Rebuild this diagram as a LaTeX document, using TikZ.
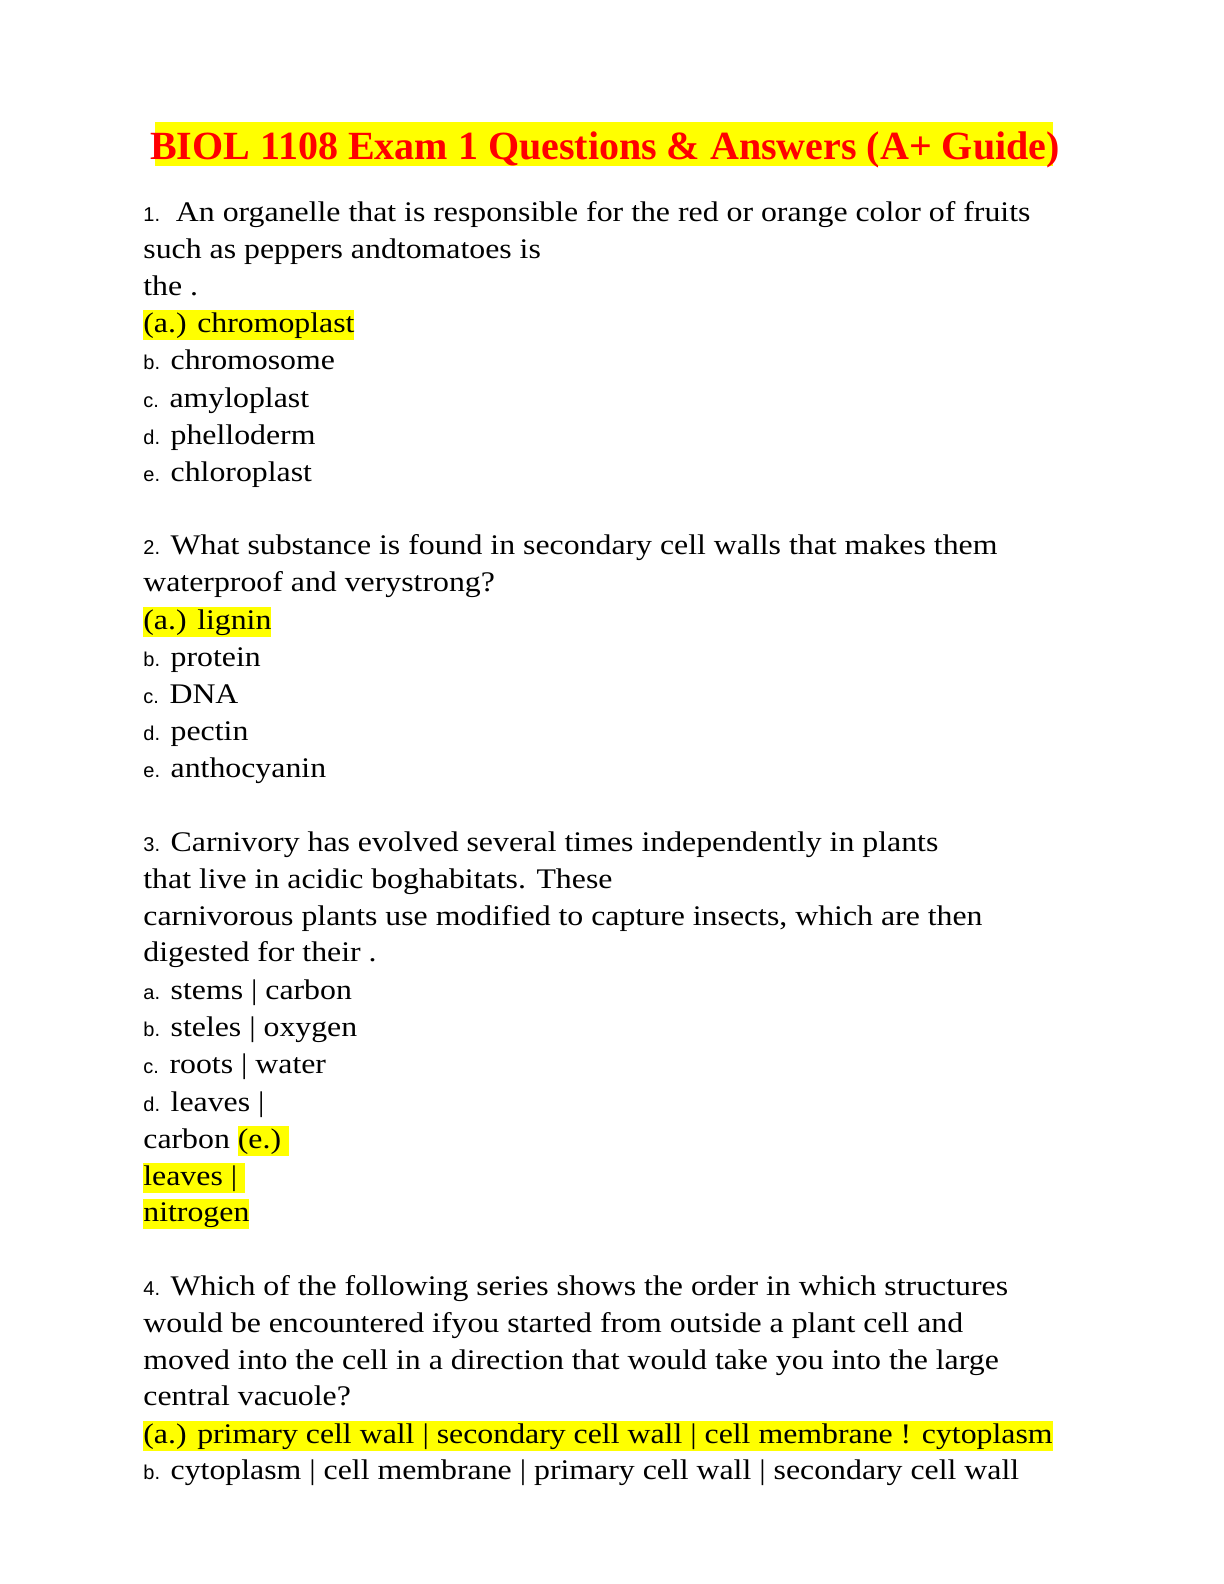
\documentclass[tikz,border=0pt]{standalone}
\usepackage{fontspec}
\setmainfont{Liberation Serif}
\newfontfamily\bodyfont[FakeStretch=1.12]{Liberation Serif}
\setsansfont{Liberation Sans}
\definecolor{hl}{RGB}{255,255,0}
\definecolor{tred}{RGB}{255,0,0}
\newcommand{\nm}[1]{{\fontsize{10pt}{12pt}\sffamily #1}}
\newcommand{\hlt}[1]{{\setlength{\fboxsep}{0pt}\colorbox{hl}{\rule[-4pt]{0pt}{15pt}#1}}}
\tikzset{ln/.style={anchor=base west,inner sep=0pt,font=\bodyfont\fontsize{14.2pt}{16pt}\selectfont}}
\begin{document}
\begin{tikzpicture}[x=0.5pt,y=-0.5pt]
\useasboundingbox (0,0) rectangle (1224,1584);
\fill[hl] (155,122) rectangle (1053,166);
\node[anchor=base,inner sep=0pt,font=\bfseries\fontsize{20pt}{24pt}\selectfont,text=tred] (title) at (605,159) {BIOL 1108 Exam 1 Questions \& Answers (A+ Guide)};
\node[ln] (l1) at (143,221) {\nm{1.}\ \ An organelle that is responsible for the red or orange color of fruits};
\node[ln] (l2) at (143,258) {such as peppers andtomatoes is};
\node[ln] (l3) at (143,295) {the .};
\node[ln] (l4) at (143,332) {\hlt{(a.) chromoplast}};
\node[ln] (l5) at (143,369) {\nm{b.} chromosome};
\node[ln] (l6) at (143,407) {\nm{c.} amyloplast};
\node[ln] (l7) at (143,444) {\nm{d.} phelloderm};
\node[ln] (l8) at (143,481) {\nm{e.} chloroplast};
\node[ln] (m1) at (143,554) {\nm{2.} What substance is found in secondary cell walls that makes them};
\node[ln] (m2) at (143,591) {waterproof and verystrong?};
\node[ln] (m3) at (143,629) {\hlt{(a.) lignin}};
\node[ln] (m4) at (143,666) {\nm{b.} protein};
\node[ln] (m5) at (143,703) {\nm{c.} DNA};
\node[ln] (m6) at (143,740) {\nm{d.} pectin};
\node[ln] (m7) at (143,777) {\nm{e.} anthocyanin};
\node[ln] (n1) at (143,851) {\nm{3.} Carnivory has evolved several times independently in plants};
\node[ln] (n2) at (143,888) {that live in acidic boghabitats. These};
\node[ln] (n3) at (143,925) {carnivorous plants use modified to capture insects, which are then};
\node[ln] (n4) at (143,961) {digested for their .};
\node[ln] (n5) at (143,999) {\nm{a.} stems | carbon};
\node[ln] (n6) at (143,1036) {\nm{b.} steles | oxygen};
\node[ln] (n7) at (143,1073) {\nm{c.} roots | water};
\node[ln] (n8) at (143,1111) {\nm{d.} leaves |};
\node[ln] (n9) at (143,1148) {carbon \hlt{(e.)\ }};
\node[ln] (n10) at (143,1185) {\hlt{leaves |\ }};
\node[ln] (n11) at (143,1221) {\hlt{nitrogen}};
\node[ln] (o1) at (143,1295) {\nm{4.} Which of the following series shows the order in which structures};
\node[ln] (o2) at (143,1332) {would be encountered ifyou started from outside a plant cell and};
\node[ln] (o3) at (143,1369) {moved into the cell in a direction that would take you into the large};
\node[ln] (o4) at (143,1405) {central vacuole?};
\node[ln] (o5) at (143,1443) {\hlt{(a.) primary cell wall | secondary cell wall | cell membrane ! cytoplasm}};
\node[ln] (o6) at (143,1479) {\nm{b.} cytoplasm | cell membrane | primary cell wall | secondary cell wall};
\end{tikzpicture}
\end{document}
